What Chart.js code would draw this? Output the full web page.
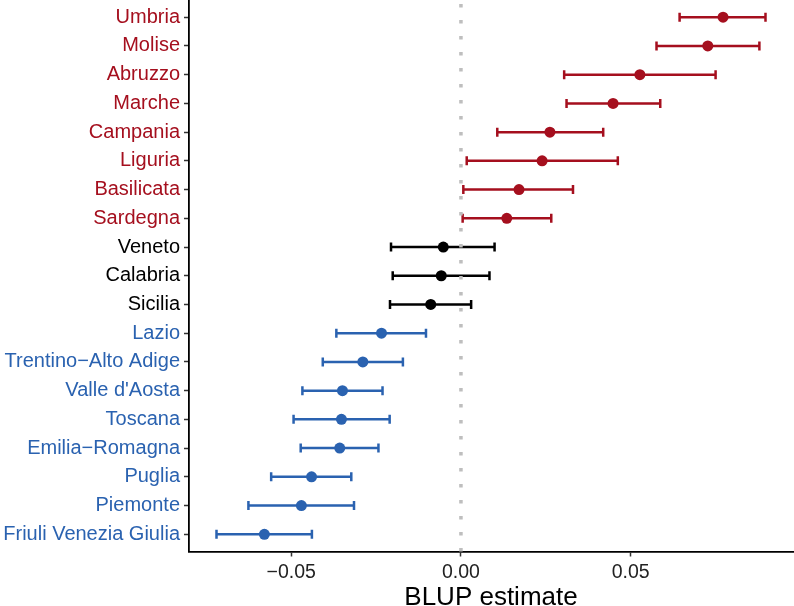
<!DOCTYPE html>
<html>
<head>
<meta charset="utf-8">
<script src="https://cdn.jsdelivr.net/npm/chart.js@4.4.1/dist/chart.umd.min.js"></script>
<style>
  html, body { margin: 0; padding: 0; background: #fff; }
</style>
</head>
<body>
<canvas id="blup" width="794" height="606"></canvas>
<script>
// regions, top to bottom as in the figure
const regions = ['Umbria', 'Molise', 'Abruzzo', 'Marche', 'Campania', 'Liguria', 'Basilicata', 'Sardegna',
  'Veneto', 'Calabria', 'Sicilia', 'Lazio', 'Trentino\u2212Alto Adige', "Valle d'Aosta", 'Toscana',
  'Emilia\u2212Romagna', 'Puglia', 'Piemonte', 'Friuli Venezia Giulia'];
const estimate = [0.0772, 0.0727, 0.0527, 0.0448, 0.0262, 0.0239, 0.0171, 0.0135,
  -0.0052, -0.0058, -0.0089, -0.0234, -0.0289, -0.0349, -0.0352, -0.0357, -0.0440, -0.0470, -0.0579];
const lower = [0.0644, 0.0576, 0.0304, 0.0311, 0.0107, 0.0017, 0.0007, 0.0005,
  -0.0206, -0.0201, -0.0209, -0.0367, -0.0407, -0.0467, -0.0493, -0.0472, -0.0559, -0.0626, -0.0720];
const upper = [0.0897, 0.0879, 0.0750, 0.0587, 0.0419, 0.0462, 0.0330, 0.0266,
  0.0099, 0.0084, 0.0030, -0.0103, -0.0171, -0.0231, -0.0210, -0.0243, -0.0323, -0.0315, -0.0439];
// above = CI above zero, none = CI crosses zero, below = CI below zero
const group = ['above', 'above', 'above', 'above', 'above', 'above', 'above', 'above',
  'none', 'none', 'none', 'below', 'below', 'below', 'below', 'below', 'below', 'below', 'below'];
const xTicks = [-0.05, 0, 0.05];

const colours = { above: '#a50f1e', none: '#000000', below: '#2a62b0' };
const n = regions.length;
const rowY = i => n - i;           // top row sits highest
const colourAt = y => colours[group[n - y]] || '#000';
const font = "'Liberation Sans', Arial, Helvetica, sans-serif";

const errorBars = {
  id: 'errorBars',
  beforeDatasetsDraw(chart) {
    const { ctx, scales: { x, y } } = chart;
    ctx.save();
    ctx.lineWidth = 2.5;
    regions.forEach((r, i) => {
      const py = y.getPixelForValue(rowY(i));
      const x0 = x.getPixelForValue(lower[i]);
      const x1 = x.getPixelForValue(upper[i]);
      ctx.strokeStyle = colours[group[i]];
      ctx.beginPath();
      ctx.moveTo(x0, py); ctx.lineTo(x1, py);
      ctx.moveTo(x0, py - 4.5); ctx.lineTo(x0, py + 4.5);
      ctx.moveTo(x1, py - 4.5); ctx.lineTo(x1, py + 4.5);
      ctx.stroke();
    });
    ctx.restore();
  },
  afterDatasetsDraw(chart) {
    const { ctx, chartArea, scales: { x } } = chart;
    const px = x.getPixelForValue(0);
    ctx.save();
    ctx.strokeStyle = '#bebebe';
    ctx.lineWidth = 3.5;
    ctx.setLineDash([3.5, 12.5]);
    ctx.beginPath();
    ctx.moveTo(px, chartArea.top + 4);
    ctx.lineTo(px, chartArea.bottom);
    ctx.stroke();
    ctx.restore();
  }
};

new Chart(document.getElementById('blup'), {
  type: 'scatter',
  data: {
    datasets: [{
      data: regions.map((r, i) => ({ x: estimate[i], y: rowY(i) })),
      pointRadius: 5.5,
      pointBorderWidth: 0,
      pointBackgroundColor: group.map(g => colours[g]),
      pointBorderColor: group.map(g => colours[g])
    }]
  },
  plugins: [errorBars],
  options: {
    responsive: false,
    animation: false,
    devicePixelRatio: 1,
    layout: { autoPadding: false, padding: { left: 0, right: 1, top: 0, bottom: 0 } },
    plugins: { legend: { display: false }, tooltip: { enabled: false } },
    scales: {
      x: {
        type: 'linear',
        min: -0.0801,
        max: 0.0978,
        afterBuildTicks: s => { s.ticks = xTicks.map(v => ({ value: v })); },
        afterFit: s => { s.height = 54.5; s.paddingLeft = 0; s.paddingRight = 0; },
        border: { display: true, color: '#000', width: 1.8 },
        grid: { display: true, drawOnChartArea: false, tickLength: 5, tickColor: '#333', tickWidth: 1.5 },
        ticks: {
          color: '#222',
          padding: 4,
          font: { family: font, size: 19.5 },
          callback: v => v.toFixed(2).replace('-', '\u2212')
        },
        title: {
          display: true,
          text: 'BLUP estimate',
          color: '#000',
          font: { family: font, size: 26, lineHeight: 0.8 },
          padding: { top: 0, bottom: -2 }
        }
      },
      y: {
        type: 'linear',
        min: 0.4,
        max: n + 0.6,
        afterBuildTicks: s => { s.ticks = regions.map((r, i) => ({ value: rowY(i) })); },
        afterFit: s => { s.width = 189; s.paddingTop = 0; s.paddingBottom = 0; },
        border: { display: true, color: '#000', width: 1.8 },
        grid: { display: true, drawOnChartArea: false, tickLength: 5, tickColor: '#333', tickWidth: 1.5 },
        ticks: {
          padding: 4,
          autoSkip: false,
          font: { family: font, size: 20 },
          color: c => colourAt(c.tick.value),
          callback: v => regions[n - v]
        }
      }
    }
  }
});
</script>
</body>
</html>
